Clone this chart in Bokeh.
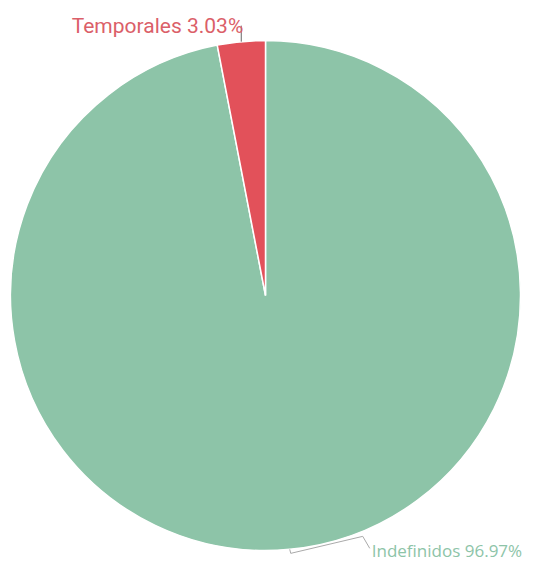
import math
from bokeh.plotting import figure
from bokeh.models import Range1d, ColumnDataSource
from bokeh.core.properties import value
from bokeh.embed import file_html
from bokeh.resources import INLINE

labels = ["Indefinidos", "Temporales"]
values = [96.97, 3.03]
colors = ["#8DC4A8", "#E2515A"]
label_colors = ["#8DC4A8", "#DB5F69"]

W, H = 540, 559
p = figure(width=W, height=H, output_backend="svg", toolbar_location=None,
           x_range=Range1d(0, W), y_range=Range1d(0, H),
           min_border=0, outline_line_color=None)
p.axis.visible = False
p.grid.visible = False
p.background_fill_color = "white"
p.border_fill_color = "white"

def py(page_y):
    return H - page_y

cx, cy, r = 265, py(295), 255
total = sum(values)
# clockwise from top, Indefinidos first
starts, ends, mids = [], [], []
acc = 0.0
for v in values:
    a0 = math.pi / 2 - 2 * math.pi * acc / total
    acc += v
    a1 = math.pi / 2 - 2 * math.pi * acc / total
    starts.append(a1)
    ends.append(a0)
    mids.append((a0 + a1) / 2)

src = ColumnDataSource(dict(start=starts, end=ends, color=colors, label=labels))
p.wedge(x=cx, y=cy, radius=r, start_angle="start", end_angle="end",
        direction="anticlock", fill_color="color", line_color="white",
        line_width=1.5, source=src)

# Temporales: short vertical connector up from slice edge
m = mids[1]
ex, ey = cx + r * math.cos(m), cy + r * math.sin(m)
p.line([ex, ex], [ey, ey + 16], line_color="#666666", line_width=1)
p.text(x=[ex + 2], y=[py(25)], text=[f"{labels[1]} {values[1]:.2f}%"],
       text_color=label_colors[1], text_font=value("Roboto"),
       text_font_size="21px", text_align="right", text_baseline="alphabetic")

# Indefinidos
m = mids[0]
ex, ey = cx + r * math.cos(m), cy + r * math.sin(m)
p.line([ex, ex + 1, ex + 73, ex + 80], [ey, ey - 4, ey + 13, ey + 1],
       line_color="#aaaaaa", line_width=1)
p.text(x=[ex + 82], y=[py(550)], text=[f"{labels[0]} {values[0]:.2f}%"],
       text_color=label_colors[0], text_font=value("Open Sans"),
       text_font_size="17px", text_align="left", text_baseline="alphabetic")

open("out.html", "w").write(file_html(p, INLINE))
